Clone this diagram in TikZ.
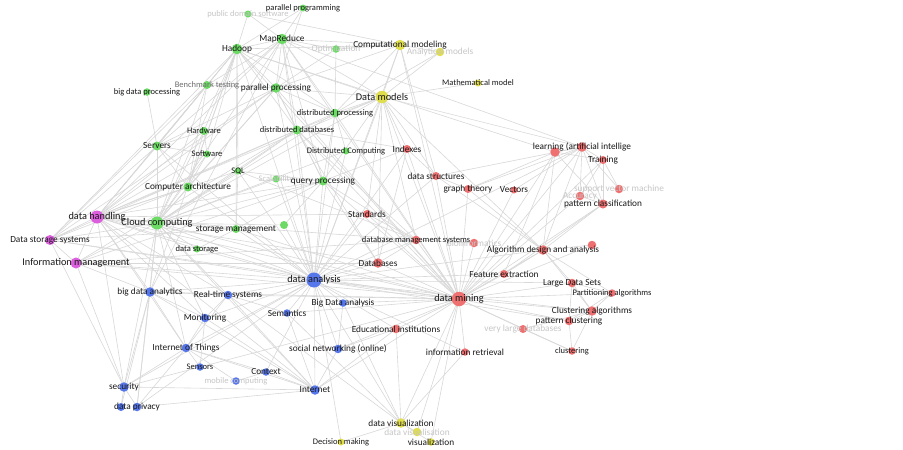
\documentclass[tikz,border=0pt]{standalone}
\usepackage{fontspec}
\setmainfont{Carlito}
\definecolor{kwgreen}{RGB}{108,218,100}
\definecolor{kwred}{RGB}{238,112,112}
\definecolor{kwblue}{RGB}{86,118,236}
\definecolor{kwyellow}{RGB}{224,222,76}
\definecolor{kwmag}{RGB}{220,96,222}
\definecolor{edgegray}{RGB}{216,216,216}
\definecolor{labdark}{RGB}{25,25,25}
\definecolor{labfaint}{RGB}{198,198,198}
\definecolor{labmed}{RGB}{110,110,110}
\tikzset{
  edge/.style={draw=edgegray, line width=0.6pt},
  kwdot/.style={circle, draw=none, inner sep=0pt, minimum size=#1},
  lab/.style={inner sep=0pt, text=labdark, font=\fontsize{9.3}{10}\selectfont},
  labs/.style={lab, font=\fontsize{8.5}{9}\selectfont},
  labl/.style={lab, font=\fontsize{10.3}{11}\selectfont},
  faint/.style={text=labfaint},
}
\begin{document}
\begin{tikzpicture}[x=1pt,y=-1pt]
\fill[white] (0,0) rectangle (903,450);
\useasboundingbox (0,0) rectangle (903,450);
% ---------- positions
\coordinate (pds) at (248,14);
\coordinate (ppg) at (303,8);
\coordinate (hadoop) at (237,49);
\coordinate (mapred) at (282,39);
\coordinate (optim) at (336,49);
\coordinate (bench) at (207,85);
\coordinate (bdp) at (147,92);
\coordinate (parproc) at (276,88);
\coordinate (distproc) at (335,113);
\coordinate (distdb) at (297,130);
\coordinate (hardware) at (204,131);
\coordinate (servers) at (157,146);
\coordinate (software) at (207,154);
\coordinate (distcomp) at (346,151);
\coordinate (sql) at (238,171);
\coordinate (scal) at (276,179);
\coordinate (query) at (323,181);
\coordinate (comparch) at (188,187);
\coordinate (cloud) at (157,223);
\coordinate (storman) at (236,229);
\coordinate (gnode) at (284,225);
\coordinate (datastor) at (197,249);
\coordinate (handling) at (97,217);
\coordinate (dss) at (50,240);
\coordinate (infoman) at (76,263);
\coordinate (compmod) at (400,45);
\coordinate (anmod) at (440,52);
\coordinate (mathmod) at (478,83);
\coordinate (datamod) at (382,97);
\coordinate (dvisz) at (401,423);
\coordinate (dvisa) at (417,432);
\coordinate (visual) at (431,442);
\coordinate (decision) at (341,442);
\coordinate (danalysis) at (314,280);
\coordinate (bda) at (150,292);
\coordinate (realtime) at (228,295);
\coordinate (bigdataan) at (343,303);
\coordinate (semantics) at (287,313);
\coordinate (monitoring) at (205,318);
\coordinate (iot) at (186,348);
\coordinate (social) at (338,349);
\coordinate (sensors) at (200,367);
\coordinate (context) at (266,372);
\coordinate (mobile) at (236,381);
\coordinate (internet) at (315,390);
\coordinate (security) at (124,387);
\coordinate (privacy) at (137,407);
\coordinate (privacy2) at (121,407);
\coordinate (learn) at (582,147);
\coordinate (learn2) at (555,152);
\coordinate (training) at (603,160);
\coordinate (indexes) at (407,149);
\coordinate (dstruct) at (436,176);
\coordinate (graph) at (468,189);
\coordinate (vectors) at (514,190);
\coordinate (accuracy) at (580,196);
\coordinate (svm) at (619,189);
\coordinate (patclass) at (603,204);
\coordinate (standards) at (367,214);
\coordinate (dbms) at (416,240);
\coordinate (rnode) at (474,243);
\coordinate (algo) at (543,250);
\coordinate (rnode2) at (592,245);
\coordinate (databases) at (378,263);
\coordinate (feature) at (504,274);
\coordinate (lds) at (572,283);
\coordinate (partalg) at (612,293);
\coordinate (dmining) at (459,299);
\coordinate (clustalg) at (592,311);
\coordinate (patclust) at (569,321);
\coordinate (edu) at (396,329);
\coordinate (vld) at (523,329);
\coordinate (inforet) at (465,352);
\coordinate (clustering) at (572,351);
% ---------- connectors
\foreach \a/\b in {danalysis/handling,danalysis/dss,danalysis/infoman,danalysis/cloud,danalysis/bda,danalysis/realtime,danalysis/bigdataan,danalysis/semantics,danalysis/monitoring,danalysis/iot,danalysis/social,danalysis/internet,danalysis/security,danalysis/dmining,danalysis/databases,danalysis/dbms,danalysis/standards,danalysis/edu,danalysis/dvisz,danalysis/decision,danalysis/hadoop,danalysis/mapred,danalysis/parproc,danalysis/distproc,danalysis/distdb,danalysis/datamod,danalysis/compmod,danalysis/query,danalysis/storman,danalysis/datastor,danalysis/comparch,danalysis/servers,danalysis/sql,danalysis/distcomp,danalysis/indexes,danalysis/algo,danalysis/feature,danalysis/lds,danalysis/learn,danalysis/patclust,danalysis/clustalg,danalysis/inforet,danalysis/context,danalysis/privacy,danalysis/gnode,danalysis/scal,danalysis/dstruct,
dmining/handling,dmining/dss,dmining/infoman,dmining/cloud,dmining/bda,dmining/bigdataan,dmining/social,dmining/internet,dmining/edu,dmining/inforet,dmining/dvisz,dmining/visual,dmining/dvisa,dmining/vld,dmining/patclust,dmining/clustalg,dmining/partalg,dmining/lds,dmining/feature,dmining/algo,dmining/patclass,dmining/learn,dmining/learn2,dmining/training,dmining/accuracy,dmining/vectors,dmining/graph,dmining/dstruct,dmining/indexes,dmining/databases,dmining/dbms,dmining/standards,dmining/datamod,dmining/compmod,dmining/mapred,dmining/hadoop,dmining/parproc,dmining/distdb,dmining/distproc,dmining/query,dmining/clustering,dmining/rnode,dmining/rnode2,dmining/realtime,dmining/semantics,dmining/storman,dmining/security,
handling/cloud,handling/dss,handling/infoman,handling/servers,handling/hadoop,handling/mapred,handling/bench,handling/comparch,handling/hardware,handling/software,handling/storman,handling/datastor,handling/security,handling/bda,handling/realtime,handling/monitoring,handling/iot,handling/internet,handling/distdb,handling/parproc,handling/query,handling/sql,handling/databases,handling/dbms,handling/datamod,handling/standards,
cloud/servers,cloud/hadoop,cloud/mapred,cloud/comparch,cloud/software,cloud/hardware,cloud/sql,cloud/storman,cloud/datastor,cloud/parproc,cloud/distproc,cloud/distdb,cloud/distcomp,cloud/scal,cloud/query,cloud/bda,cloud/iot,cloud/realtime,cloud/monitoring,cloud/security,cloud/privacy,cloud/internet,cloud/dss,cloud/infoman,cloud/datamod,cloud/bench,cloud/gnode,
dss/infoman,dss/servers,dss/hadoop,dss/bench,dss/comparch,dss/security,dss/storman,dss/distdb,dss/parproc,
infoman/security,infoman/bda,infoman/databases,infoman/dbms,infoman/distdb,infoman/query,
security/bda,security/privacy,security/privacy2,security/iot,security/internet,
privacy/bda,privacy/internet,privacy/iot,privacy2/bda,
bda/hadoop,bda/mapred,bda/realtime,bda/iot,bda/monitoring,bda/internet,
iot/sensors,iot/monitoring,iot/realtime,iot/internet,iot/context,iot/mobile,
internet/social,internet/edu,internet/semantics,internet/realtime,internet/monitoring,internet/context,
social/bigdataan,social/edu,
edu/dvisz,dvisz/bigdataan,dvisz/inforet,dvisz/visual,dvisz/dvisa,dvisz/decision,dvisz/semantics,dvisz/realtime,
semantics/realtime,realtime/monitoring,monitoring/sensors,context/mobile,
hadoop/mapred,hadoop/pds,hadoop/ppg,hadoop/parproc,hadoop/bench,hadoop/servers,hadoop/comparch,hadoop/distdb,hadoop/distproc,hadoop/hardware,hadoop/software,hadoop/learn2,hadoop/datamod,hadoop/compmod,hadoop/sql,hadoop/storman,
mapred/ppg,mapred/pds,mapred/optim,mapred/compmod,mapred/datamod,mapred/parproc,mapred/distproc,mapred/distdb,mapred/learn,mapred/query,mapred/servers,
pds/compmod,ppg/parproc,optim/compmod,optim/parproc,optim/distproc,
bench/servers,bench/comparch,bench/mapred,bench/parproc,
bdp/servers,
parproc/distproc,parproc/distdb,parproc/datamod,parproc/compmod,parproc/query,parproc/servers,parproc/comparch,
distproc/datamod,distproc/distdb,distproc/distcomp,distproc/query,distproc/compmod,
distdb/query,distdb/datamod,distdb/indexes,distdb/sql,distdb/databases,distdb/dbms,
hardware/servers,hardware/software,hardware/comparch,
servers/software,servers/comparch,software/comparch,
sql/query,sql/storman,sql/dbms,scal/query,
query/indexes,query/datamod,query/dbms,query/databases,query/storman,
storman/datastor,gnode/query,
compmod/anmod,compmod/datamod,compmod/dstruct,
anmod/datamod,anmod/distproc,mathmod/datamod,
datamod/dstruct,datamod/indexes,datamod/dbms,datamod/databases,datamod/learn,datamod/standards,datamod/algo,
learn/training,learn/accuracy,learn/svm,learn/patclass,learn/learn2,learn/algo,learn/vectors,learn/graph,learn/dstruct,
learn2/training,learn2/patclass,learn2/algo,learn2/feature,learn2/graph,
training/accuracy,training/patclass,training/svm,
patclass/accuracy,patclass/algo,patclass/feature,
indexes/dstruct,indexes/databases,
dstruct/graph,dstruct/algo,graph/algo,
standards/dbms,dbms/rnode,dbms/databases,
algo/feature,algo/lds,algo/clustalg,algo/partalg,algo/rnode2,
lds/partalg,lds/clustalg,lds/patclust,
partalg/clustalg,partalg/patclust,
clustalg/patclust,clustalg/clustering,clustalg/vld,
patclust/clustering,vld/clustering}
  \draw[edge] (\a) -- (\b);
% ---------- circles
\foreach \n/\d/\c in {pds/7/kwgreen,ppg/7/kwgreen,hadoop/10.5/kwgreen,mapred/10.5/kwgreen,optim/7.5/kwgreen,bench/8/kwgreen,bdp/7.5/kwgreen,parproc/9.5/kwgreen,distproc/8.5/kwgreen,distdb/9/kwgreen,hardware/8/kwgreen,servers/9/kwgreen,software/7/kwgreen,distcomp/7/kwgreen,sql/7/kwgreen,scal/7/kwgreen,query/9/kwgreen,comparch/9/kwgreen,cloud/13/kwgreen,storman/8/kwgreen,gnode/8/kwgreen,datastor/7/kwgreen,
handling/13/kwmag,dss/10/kwmag,infoman/11/kwmag,
compmod/10.5/kwyellow,anmod/8.5/kwyellow,mathmod/7/kwyellow,datamod/12.5/kwyellow,dvisz/9.5/kwyellow,dvisa/8.5/kwyellow,visual/7.5/kwyellow,decision/7/kwyellow,
danalysis/15/kwblue,bda/9.5/kwblue,realtime/8.5/kwblue,bigdataan/7.5/kwblue,semantics/7.5/kwblue,monitoring/8.5/kwblue,iot/8.5/kwblue,social/8.5/kwblue,sensors/7.5/kwblue,context/7.5/kwblue,mobile/7.5/kwblue,internet/9.5/kwblue,security/9.5/kwblue,privacy/8.5/kwblue,privacy2/8/kwblue,
learn/9.5/kwred,learn2/9.5/kwred,training/8/kwred,indexes/8/kwred,dstruct/8/kwred,graph/8/kwred,vectors/7/kwred,accuracy/8.5/kwred,svm/8.5/kwred,patclass/9/kwred,standards/8/kwred,dbms/8.5/kwred,rnode/8.5/kwred,algo/9.5/kwred,rnode2/8.5/kwred,databases/9.5/kwred,feature/8/kwred,lds/8.5/kwred,partalg/7.5/kwred,dmining/14.5/kwred,clustalg/9.5/kwred,patclust/8.5/kwred,edu/8.5/kwred,vld/8/kwred,inforet/7.5/kwred,clustering/7.5/kwred}
  \node[kwdot=\d pt, fill=\c] (\n-d) at (\n) {};
% ---------- labels
\node[labs,faint] (pds-l) at (pds) {public domain software};
\node[labs] (ppg-l) at (ppg) {parallel programming};
\node[lab] (hadoop-l) at (hadoop) {Hadoop};
\node[lab] (mapred-l) at (mapred) {MapReduce};
\node[lab,faint] (optim-l) at (optim) {Optimization};
\node[labs,text=labmed] (bench-l) at (bench) {Benchmark testing};
\node[labs] (bdp-l) at (bdp) {big data processing};
\node[lab] (parproc-l) at (parproc) {parallel processing};
\node[labs] (distproc-l) at (distproc) {distributed processing};
\node[labs] (distdb-l) at (distdb) {distributed databases};
\node[labs] (hardware-l) at (hardware) {Hardware};
\node[lab] (servers-l) at (servers) {Servers};
\node[labs] (software-l) at (software) {Software};
\node[labs] (distcomp-l) at (distcomp) {Distributed Computing};
\node[labs] (sql-l) at (sql) {SQL};
\node[labs,faint] (scal-l) at (scal) {Scalability};
\node[lab] (query-l) at (query) {query processing};
\node[lab] (comparch-l) at (comparch) {Computer architecture};
\node[labl] (cloud-l) at (cloud) {Cloud computing};
\node[lab] (storman-l) at (storman) {storage management};
\node[labs] (datastor-l) at (datastor) {data storage};
\node[labl] (handling-l) at (handling) {data handling};
\node[lab] (dss-l) at (dss) {Data storage systems};
\node[labl] (infoman-l) at (infoman) {Information management};
\node[lab] (compmod-l) at (compmod) {Computational modeling};
\node[lab,faint] (anmod-l) at (anmod) {Analytical models};
\node[labs] (mathmod-l) at (mathmod) {Mathematical model};
\node[labl] (datamod-l) at (datamod) {Data models};
\node[lab] (dvisz-l) at (dvisz) {data visualization};
\node[lab,faint] (dvisa-l) at (dvisa) {data visualisation};
\node[lab] (visual-l) at (visual) {visualization};
\node[labs] (decision-l) at (decision) {Decision making};
\node[labl] (danalysis-l) at (danalysis) {data analysis};
\node[lab] (bda-l) at (bda) {big data analytics};
\node[lab] (realtime-l) at (realtime) {Real-time systems};
\node[lab] (bigdataan-l) at (bigdataan) {Big Data analysis};
\node[lab] (semantics-l) at (semantics) {Semantics};
\node[lab] (monitoring-l) at (monitoring) {Monitoring};
\node[lab] (iot-l) at (iot) {Internet of Things};
\node[lab] (social-l) at (social) {social networking (online)};
\node[labs] (sensors-l) at (sensors) {Sensors};
\node[lab] (context-l) at (context) {Context};
\node[labs,faint] (mobile-l) at (mobile) {mobile computing};
\node[lab] (internet-l) at (internet) {Internet};
\node[lab] (security-l) at (security) {security};
\node[lab] (privacy-l) at (privacy) {data privacy};
\node[lab] (learn-l) at (learn) {learning (artificial intellige};
\node[lab] (training-l) at (training) {Training};
\node[lab] (indexes-l) at (indexes) {Indexes};
\node[lab] (dstruct-l) at (dstruct) {data structures};
\node[lab] (graph-l) at (graph) {graph theory};
\node[lab] (vectors-l) at (vectors) {Vectors};
\node[lab,faint] (svm-l) at (svm) {support vector machine};
\node[lab,faint] (accuracy-l) at (accuracy) {Accuracy};
\node[lab] (patclass-l) at (patclass) {pattern classification};
\node[lab] (standards-l) at (standards) {Standards};
\node[lab,faint] (rnode-l) at (rnode) {Bioinformatics};
\node[labs] (dbms-l) at (dbms) {database management systems};
\node[lab] (algo-l) at (algo) {Algorithm design and analysis};
\node[lab] (databases-l) at (databases) {Databases};
\node[lab] (feature-l) at (feature) {Feature extraction};
\node[lab] (lds-l) at (lds) {Large Data Sets};
\node[labs] (partalg-l) at (partalg) {Partitioning algorithms};
\node[labl] (dmining-l) at (dmining) {data mining};
\node[lab] (clustalg-l) at (clustalg) {Clustering algorithms};
\node[lab] (patclust-l) at (patclust) {pattern clustering};
\node[lab] (edu-l) at (edu) {Educational institutions};
\node[lab,faint] (vld-l) at (vld) {very large databases};
\node[lab] (inforet-l) at (inforet) {information retrieval};
\node[labs] (clustering-l) at (clustering) {clustering};
\end{tikzpicture}
\end{document}
